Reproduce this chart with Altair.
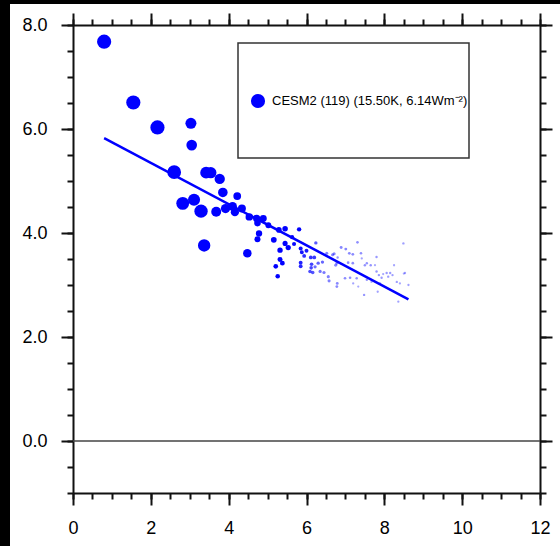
import altair as alt
import pandas as pd

# ---- data (ordered roughly by time: large early points first) ----
dT = [0.80, 1.55, 2.17,
      2.60, 3.29, 2.82, 3.37,
      3.11, 3.42, 3.54, 3.03, 3.05,
      3.77, 3.68, 3.85, 3.92, 4.10, 4.48,
      4.16, 4.34, 4.22, 4.53, 4.72, 4.89, 4.74, 4.78, 4.74,
      5.02, 5.16, 5.29, 5.45, 5.32, 5.53, 5.45, 5.32, 5.38, 5.21, 5.26, 5.81, 5.63, 5.68,
      5.85, 5.88, 6.00, 5.85, 5.85, 5.94, 6.11, 6.20, 6.13, 6.12, 6.09, 6.16, 6.24, 6.30, 6.41, 6.22, 6.35, 6.45,
      6.56, 6.58, 6.52, 6.67, 6.71, 6.75, 6.78, 6.89, 7.01, 6.79, 6.78, 7.10, 7.19, 7.07, 7.19, 6.99, 7.12, 7.31, 7.40, 7.29, 6.80,
      7.50, 7.55, 7.65, 7.55, 7.80, 7.86, 7.48, 7.80, 7.89, 7.93, 8.06, 8.10, 8.15, 8.21, 8.49, 8.53, 8.32, 8.62, 8.36, 7.83,
      7.20, 7.42, 8.25, 7.97, 8.40, 7.67, 7.33, 7.76, 8.50]
dN = [7.68, 6.51, 6.03,
      5.17, 4.42, 4.57, 3.76,
      4.64, 5.16, 5.16, 6.11, 5.69,
      5.04, 4.41, 4.78, 4.47, 4.51, 3.61,
      4.40, 4.47, 4.71, 4.31, 4.28, 4.28, 4.19, 3.99, 3.88,
      4.15, 3.87, 4.06, 4.08, 3.67, 3.72, 3.80, 3.49, 3.42, 3.36, 3.17, 4.07, 3.92, 3.79,
      3.70, 3.63, 3.66, 3.43, 3.36, 3.56, 3.53, 3.53, 3.40, 3.33, 3.26, 3.24, 3.81, 3.42, 3.44, 3.35, 3.26, 3.24,
      3.16, 3.08, 3.61, 3.58, 3.60, 3.38, 3.42, 3.72, 3.69, 3.03, 2.97, 3.61, 3.59, 3.43, 3.42, 3.13, 3.14, 3.82, 3.61, 3.13, 3.53,
      3.38, 3.42, 3.38, 3.10, 3.26, 3.19, 2.81, 3.54, 3.03, 3.14, 3.23, 3.16, 3.23, 3.19, 3.80, 3.23, 3.06, 3.00, 2.68, 2.87,
      3.03, 3.51, 3.38, 3.21, 3.03, 3.06, 2.97, 3.38, 3.22]

model_label = "CESM2 (119) (15.50K, 6.14Wm\u207b\u00b2)"
ecs = 15.50
erf = 6.14

x_ticks = [0, 2, 4, 6, 8, 10, 12]
x_minor = [0, 0.5, 1, 1.5, 2, 2.5, 3, 3.5, 4, 4.5, 5, 5.5, 6, 6.5, 7, 7.5, 8, 8.5, 9, 9.5, 10, 10.5, 11, 11.5, 12]
y_ticks = [0, 2, 4, 6, 8]
y_minor = [-1, -0.5, 0, 0.5, 1, 1.5, 2, 2.5, 3, 3.5, 4, 4.5, 5, 5.5, 6, 6.5, 7, 7.5, 8]

df = pd.DataFrame({"dT": dT, "dN": dN, "year": list(range(1, len(dT) + 1))})
fit_x = [min(dT), max(dT)]
fit_df = pd.DataFrame({"x": fit_x, "y": [erf * (1 - v / ecs) for v in fit_x]})
zero_df = pd.DataFrame({"x": [0], "x2": [12], "y": [0]})
one = pd.DataFrame({"label": [model_label]})

W, H = 467, 468
FONT = "Liberation Sans"
xs = alt.Scale(domain=[0, 12], nice=False, zero=False)
ys = alt.Scale(domain=[-1, 8], nice=False, zero=False)
BLUE = "#0000ff"


def ax(orient, values, size, labels, domain, fmt=None, pad=0):
    kw = dict(orient=orient, values=values, tickSize=size, tickWidth=2, tickColor="#111111",
              domain=domain, domainWidth=2, domainColor="#111111", grid=False, title=None,
              labels=labels, labelOverlap=False)
    if labels:
        kw.update(labelFontSize=18, labelFont=FONT, labelColor="black", labelPadding=pad,
                  labelFlush=False, format=fmt)
    return alt.Axis(**kw)


points = alt.Chart(df).mark_circle(color=BLUE).encode(
    x=alt.X("dT:Q", scale=xs, axis=ax("bottom", x_ticks, 12, True, True, "d", 14)),
    y=alt.Y("dN:Q", scale=ys, axis=ax("left", y_ticks, 12, True, True, ".1f", 14)),
    size=alt.Size("year:Q", scale=alt.Scale(domain=[1, 3, 7, 12, 18, 27, 41, 59, 80, 119],
                                            range=[201, 201, 154, 113, 72, 36, 16.6, 10, 6.2, 4.5]),
                  legend=None),
    opacity=alt.Opacity("year:Q", scale=alt.Scale(domain=[1, 40, 60, 119], range=[1, 1, 0.5, 0.3]),
                        legend=None),
)

minor_bl = alt.Chart(df).mark_point(opacity=0).encode(
    x=alt.X("dT:Q", scale=xs, axis=ax("bottom", x_minor, 6, False, False)),
    y=alt.Y("dN:Q", scale=ys, axis=ax("left", y_minor, 6, False, False)),
)
major_tr = alt.Chart(df).mark_point(opacity=0).encode(
    x=alt.X("dT:Q", scale=xs, axis=ax("top", x_ticks, 12, False, True)),
    y=alt.Y("dN:Q", scale=ys, axis=ax("right", y_ticks, 12, False, True)),
)
minor_tr = alt.Chart(df).mark_point(opacity=0).encode(
    x=alt.X("dT:Q", scale=xs, axis=ax("top", x_minor, 6, False, False)),
    y=alt.Y("dN:Q", scale=ys, axis=ax("right", y_minor, 6, False, False)),
)

zero_line = alt.Chart(zero_df).mark_rule(color="#444444", strokeWidth=1.5).encode(
    x=alt.X("x:Q", scale=xs, axis=None), x2="x2:Q", y=alt.Y("y:Q", scale=ys, axis=None)
)
fit_line = alt.Chart(fit_df).mark_line(color=BLUE, strokeWidth=2.5).encode(
    x=alt.X("x:Q", scale=xs, axis=None), y=alt.Y("y:Q", scale=ys, axis=None)
)

strip_left = alt.Chart(one).mark_rect(color="black").encode(
    x=alt.value(-73), x2=alt.value(-63), y=alt.value(-25), y2=alt.value(521))
strip_top = alt.Chart(one).mark_rect(color="black").encode(
    x=alt.value(-73), x2=alt.value(487), y=alt.value(-25), y2=alt.value(-21))

leg_box = alt.Chart(one).mark_rect(fill="white", stroke="#333333", strokeWidth=1.5).encode(
    x=alt.value(165), x2=alt.value(396), y=alt.value(18), y2=alt.value(133))
leg_sym = alt.Chart(one).mark_circle(color=BLUE, size=201, opacity=1).encode(
    x=alt.value(185), y=alt.value(76))
leg_txt = alt.Chart(one).mark_text(align="left", baseline="middle", fontSize=13, font=FONT,
                                   color="black").encode(
    x=alt.value(199), y=alt.value(76), text="label:N")

chart = alt.layer(
    strip_left, strip_top, minor_bl, major_tr, minor_tr, zero_line, fit_line, points,
    leg_box, leg_sym, leg_txt
).resolve_axis(x="independent", y="independent").properties(
    width=W, height=H,
    autosize=alt.AutoSizeParams(type="none"),
    padding={"left": 73, "top": 25, "right": 560 - 73 - W, "bottom": 546 - 25 - H},
    background="white",
).configure_view(stroke=None)

chart.save("out.html", embed_options={"renderer": "svg", "actions": False})
